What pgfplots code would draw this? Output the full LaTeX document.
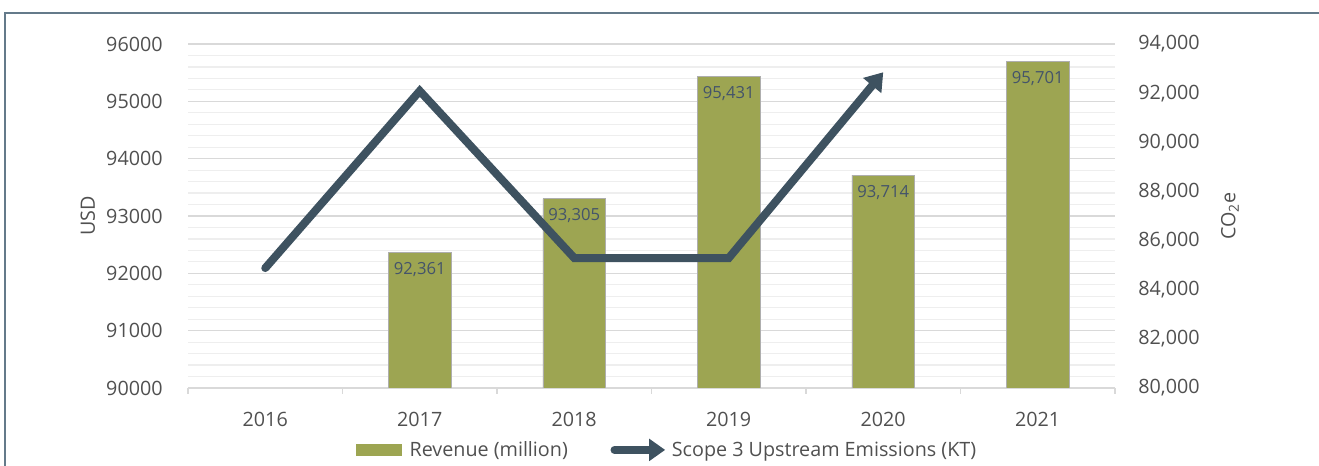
\documentclass[border=0pt]{standalone}
\usepackage{pgfplots}
\pgfplotsset{compat=1.18}
\usepackage{fontspec}
\setmainfont{Open Sans}
\usetikzlibrary{arrows.meta}

\definecolor{barcol}{RGB}{157,165,82}
\definecolor{linecol}{RGB}{62,82,96}
\definecolor{tickcol}{RGB}{80,80,80}
\definecolor{labcol}{RGB}{68,84,106}
\definecolor{framecol}{RGB}{100,122,138}
\definecolor{majgrid}{RGB}{217,217,217}
\definecolor{mingrid}{RGB}{238,238,238}

\newcommand{\tfont}{\fontsize{14.8}{17}\selectfont}

\begin{document}
\begin{tikzpicture}[x=0.75pt,y=0.75pt]
\useasboundingbox (0,0) rectangle (1319,466);
\draw[framecol, line width=1.2pt] (5,0) -- (5,453) -- (1319,453);

\pgfplotsset{
  chartbase/.style={
    scale only axis, width=695.25pt, height=258pt,
    at={(141pt,58.5pt)}, anchor=south west,
    xmin=2015.5, xmax=2021.5,
    enlargelimits=false,
    scaled y ticks=false,
    tick label style={font=\tfont, color=tickcol},
    label style={font=\tfont, color=tickcol},
    /pgf/number format/assume math mode=true,
    ytick style={draw=none},
  }
}

% revenue bars, left axis
\begin{axis}[
  chartbase,
  ymin=90000, ymax=96000,
  ytick={90000,91000,...,96000},
  /pgf/number format/1000 sep={},
  minor y tick num=4,
  ymajorgrids, yminorgrids,
  major grid style={majgrid, line width=0.9pt},
  minor grid style={mingrid, line width=0.9pt},
  axis x line*=bottom, axis y line*=left,
  y axis line style={draw=none},
  x axis line style={majgrid, line width=1pt},
  xtick={2015.5,2016.5,...,2021.5},
  x tick label as interval,
  xticklabels={2016,2017,2018,2019,2020,2021},
  xtick style={majgrid, line width=1pt},
  major tick length=4.5pt,
  tick align=outside,
  xticklabel style={yshift=-10pt},
  yticklabel style={xshift=-11pt},
  ylabel={USD},
  ylabel style={at={(axis description cs:-0.108,0.5)}, anchor=center},
  ybar, bar width=47pt,
  nodes near coords={\pgfmathprintnumber[1000 sep={,}]{\pgfplotspointmeta}},
  every node near coord/.append style={anchor=north, yshift=-4pt,
    font=\fontsize{12.5}{14}\selectfont, color=labcol},
]
\addplot[fill=barcol, draw=majgrid!80!black, line width=0.6pt]
  coordinates {(2017,92361)(2018,93305)(2019,95431)(2020,93714)(2021,95701)};
\end{axis}

% emissions line, right axis
\begin{axis}[
  chartbase,
  ymin=80000, ymax=94000,
  ytick={80000,82000,...,94000},
  /pgf/number format/1000 sep={,},
  axis x line=none,
  axis y line*=right,
  y axis line style={draw=none},
  yticklabel style={xshift=14pt},
  ylabel={CO\textsubscript{2}e},
  ylabel style={at={(axis description cs:1.124,0.5)}, anchor=center},
  clip=false,
  legend style={at={(0.517,-0.18)}, anchor=center, draw=none, fill=none,
    font=\tfont, text=tickcol, legend columns=2,
    /tikz/every even column/.append style={column sep=30pt}},
  legend cell align=left,
]
\addlegendimage{legend image code/.code={\fill[barcol] (0pt,-4pt) rectangle (34pt,4pt); \path (38pt,0pt);}}
\addlegendentry{Revenue (million)}
\addlegendimage{legend image code/.code={\draw[linecol, line width=6pt, line cap=round,
  -{Triangle[length=12pt,width=16pt]}] (0pt,0pt) -- (38pt,0pt); \path (40pt,0pt);}}
\addlegendentry{Scope 3 Upstream Emissions (KT)}
\addplot[forget plot, linecol, line width=6pt, line cap=round, line join=miter,
  -{Triangle[length=13pt,width=17pt]}]
  coordinates {(2016,84880)(2017,92090)(2018,85290)(2019,85290)(2020,92850)};
\end{axis}
\end{tikzpicture}
\end{document}
